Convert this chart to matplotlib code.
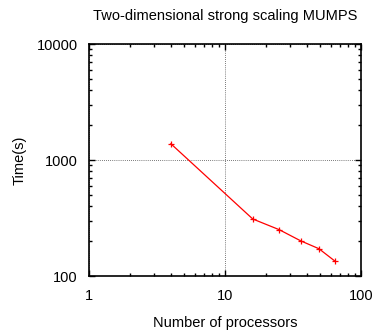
import matplotlib
matplotlib.use("Agg")
import matplotlib.pyplot as plt
from matplotlib.ticker import LogLocator, NullFormatter, FixedLocator, FixedFormatter

processors = [4, 16, 25, 36, 49, 64]
times = [1380, 310, 251, 201, 172, 135]

x_ticks = [1, 10, 100]
x_labels = ["1", "10", "100"]
y_ticks = [100, 1000, 10000]
y_labels = ["100", "1000", "10000"]

plt.rcParams['font.family'] = ['Liberation Sans', 'DejaVu Sans']
fig = plt.figure(figsize=(3.75, 3.3), dpi=100)
ax = fig.add_axes([89/375, 1 - 276/330, (361-89)/375, (276-44)/330])
ax.set_xscale('log')
ax.set_yscale('log')
ax.set_xlim(1, 100)
ax.set_ylim(100, 10000)
ax.plot(processors, times, color='red', lw=0.9, marker='+', ms=5, mew=0.9)
ax.xaxis.set_major_locator(FixedLocator(x_ticks))
ax.xaxis.set_major_formatter(FixedFormatter(x_labels))
ax.yaxis.set_major_locator(FixedLocator(y_ticks))
ax.yaxis.set_major_formatter(FixedFormatter(y_labels))
ax.xaxis.set_minor_locator(LogLocator(base=10, subs=range(2, 10)))
ax.yaxis.set_minor_locator(LogLocator(base=10, subs=range(2, 10)))
ax.xaxis.set_minor_formatter(NullFormatter())
ax.yaxis.set_minor_formatter(NullFormatter())
ax.tick_params(which='both', direction='in', top=True, right=True, labelsize=10.5, width=1)
ax.tick_params(which='major', length=4)
ax.tick_params(which='minor', length=2)
ax.tick_params(axis='x', pad=9)
ax.tick_params(axis='y', pad=8)
ax.grid(True, which='major', color='black', ls=(0, (1, 2)), lw=0.5)
for s in ax.spines.values():
    s.set_linewidth(1.2)
ax.set_xlabel("Number of processors", fontsize=10.5, labelpad=10)
ax.set_ylabel("Time(s)", fontsize=10.5, labelpad=7.5)
ax.set_title("Two-dimensional strong scaling MUMPS", fontsize=10.5, pad=17.5)
fig.savefig("out.png", dpi=100)
